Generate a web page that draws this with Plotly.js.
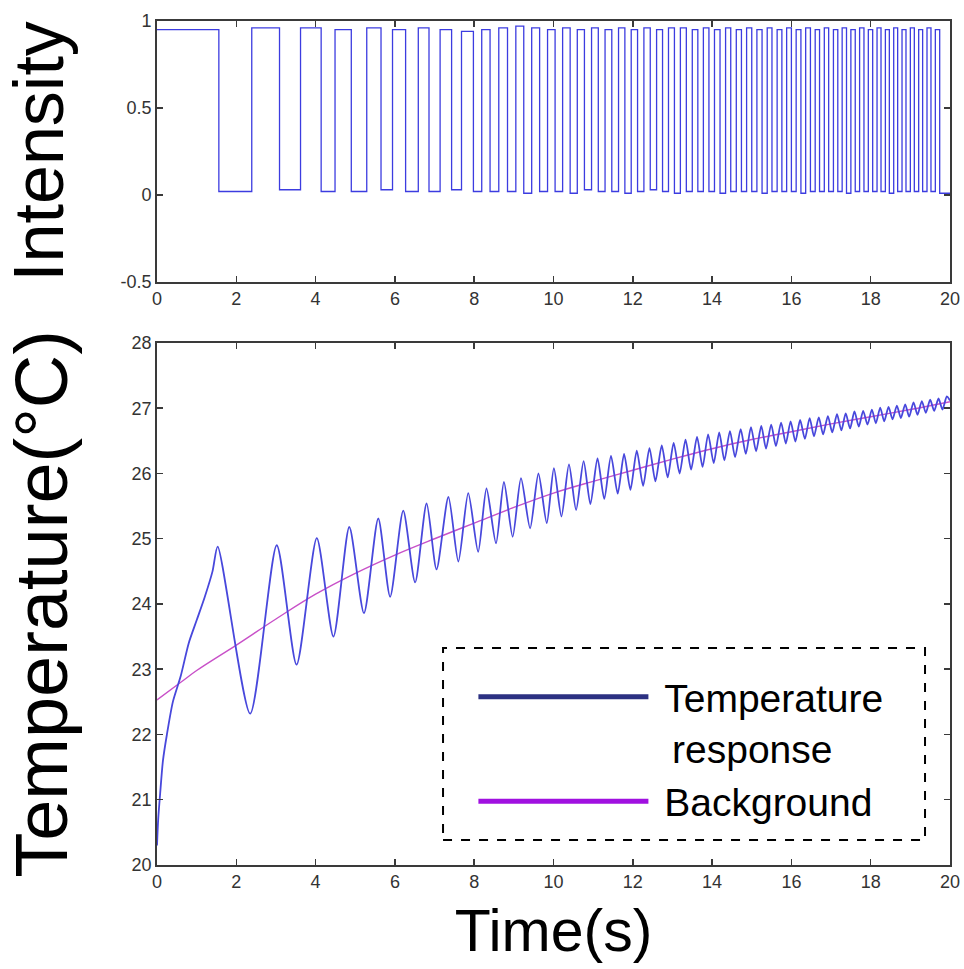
<!DOCTYPE html>
<html>
<head>
<meta charset="utf-8">
<script src="https://cdn.plot.ly/plotly-3.0.1.min.js"></script>
<style>html,body{margin:0;padding:0;background:#fff;}#chart{width:964px;height:969px;}</style>
</head>
<body>
<div id="chart"></div>
<script>
// ---- Intensity (top panel): times where the level changes, and the level after each change
const intensityTimes = [0, 1.56, 2.39, 3.09, 3.62, 4.14, 4.49, 4.90, 5.29, 5.65, 5.94, 6.27, 6.59, 6.86, 7.14, 7.43, 7.68, 7.98, 8.19, 8.40, 8.62, 8.84, 9.05, 9.25, 9.45, 9.65, 9.85, 10.04, 10.23, 10.42, 10.60, 10.78, 10.96, 11.13, 11.30, 11.47, 11.64, 11.80, 11.96, 12.12, 12.28, 12.44, 12.60, 12.75, 12.90, 13.05, 13.20, 13.35, 13.50, 13.64, 13.78, 13.92, 14.06, 14.20, 14.34, 14.47, 14.61, 14.74, 14.87, 15.00, 15.13, 15.26, 15.39, 15.51, 15.64, 15.76, 15.88, 16.00, 16.12, 16.24, 16.36, 16.48, 16.60, 16.71, 16.83, 16.94, 17.06, 17.17, 17.28, 17.39, 17.50, 17.61, 17.72, 17.83, 17.94, 18.05, 18.16, 18.26, 18.37, 18.47, 18.58, 18.68, 18.79, 18.89, 19.00, 19.10, 19.21, 19.31, 19.42, 19.52, 19.63, 19.74, 20];
const intensityLevels = [0.95, 0.02, 0.96, 0.03, 0.96, 0.02, 0.95, 0.02, 0.96, 0.03, 0.95, 0.02, 0.96, 0.02, 0.95, 0.03, 0.94, 0.02, 0.95, 0.02, 0.96, 0.02, 0.97, 0.01, 0.96, 0.02, 0.95, 0.02, 0.96, 0.01, 0.95, 0.03, 0.96, 0.02, 0.95, 0.02, 0.96, 0.01, 0.95, 0.02, 0.96, 0.03, 0.95, 0.02, 0.96, 0.01, 0.96, 0.02, 0.95, 0.02, 0.96, 0.02, 0.95, 0.01, 0.96, 0.02, 0.95, 0.02, 0.96, 0.02, 0.95, 0.01, 0.96, 0.02, 0.95, 0.02, 0.96, 0.02, 0.95, 0.01, 0.96, 0.02, 0.95, 0.02, 0.96, 0.02, 0.95, 0.02, 0.96, 0.01, 0.95, 0.02, 0.96, 0.02, 0.95, 0.02, 0.96, 0.02, 0.95, 0.01, 0.96, 0.02, 0.95, 0.02, 0.96, 0.02, 0.95, 0.02, 0.96, 0.02, 0.95, 0.01, 0.01];

// ---- Temperature response (bottom panel)
const tempT = [0, 0.03, 0.08, 0.15, 0.25, 0.40, 0.60, 0.80, 1.00, 1.20, 1.40, 1.53,
  2.35, 3.02, 3.52, 4.03, 4.45, 4.85, 5.22, 5.58, 5.88, 6.21, 6.51, 6.80, 7.05, 7.35, 7.60, 7.85, 8.10, 8.31, 8.55, 8.75, 8.97, 9.18, 9.41, 9.62, 9.83, 10.01,
  10.20, 10.39, 10.57, 10.76, 10.93, 11.11, 11.28, 11.45, 11.62, 11.78, 11.94, 12.10, 12.26, 12.42, 12.57, 12.73, 12.88, 13.03, 13.18, 13.33, 13.47, 13.62, 13.76, 13.90,
  14.04, 14.18, 14.31, 14.45, 14.58, 14.72, 14.85, 14.98, 15.11, 15.24, 15.36, 15.49, 15.61, 15.74, 15.86, 15.98, 16.10, 16.22, 16.34, 16.46, 16.57, 16.69, 16.80, 16.92,
  17.03, 17.15, 17.26, 17.37, 17.48, 17.59, 17.70, 17.81, 17.92, 18.03, 18.13, 18.24, 18.34, 18.45, 18.55, 18.66, 18.76, 18.87, 18.97, 19.08, 19.18, 19.29, 19.39, 19.50,
  19.60, 19.71, 19.81, 19.92, 20.00];
const tempV = [20.30, 20.70, 21.10, 21.60, 22.00, 22.50, 22.90, 23.40, 23.75, 24.10, 24.50, 24.88,
  22.32, 24.90, 23.07, 25.01, 23.50, 25.18, 23.86, 25.31, 24.11, 25.43, 24.33, 25.54, 24.53, 25.64, 24.65, 25.70, 24.80, 25.77, 24.93, 25.87, 25.03, 25.93, 25.16, 26.00, 25.24, 26.08,
  25.34, 26.14, 25.44, 26.19, 25.53, 26.23, 25.61, 26.27, 25.69, 26.30, 25.75, 26.35, 25.81, 26.39, 25.88, 26.43, 25.94, 26.47, 26.00, 26.52, 26.06, 26.56, 26.10, 26.60,
  26.16, 26.63, 26.20, 26.65, 26.25, 26.68, 26.30, 26.71, 26.34, 26.73, 26.38, 26.75, 26.42, 26.78, 26.46, 26.80, 26.49, 26.82, 26.53, 26.85, 26.57, 26.86, 26.60, 26.88,
  26.63, 26.91, 26.66, 26.92, 26.69, 26.95, 26.72, 26.96, 26.75, 26.98, 26.77, 27.01, 26.80, 27.02, 26.83, 27.04, 26.85, 27.06, 26.87, 27.09, 26.90, 27.11, 26.93, 27.13,
  26.96, 27.15, 26.98, 27.18, 27.12];

// ---- Background (bottom panel)
const bgT = [0, 0.6, 1, 2, 3, 4, 5, 6, 7, 8, 9, 10, 11, 12, 13, 14, 15, 16, 17, 18, 19, 20];
const bgV = [22.53, 22.80, 22.98, 23.37, 23.77, 24.15, 24.47, 24.75, 25.00, 25.24, 25.48, 25.70, 25.88, 26.05, 26.22, 26.38, 26.52, 26.64, 26.76, 26.87, 26.98, 27.10];

// ---- Labels
const legendNames = ['\u00a0Temperature<br>\u00a0\u2009response', '\u00a0Background'];
const xTickVals = [0, 2, 4, 6, 8, 10, 12, 14, 16, 18, 20];
const yTopTicks = [-0.5, 0, 0.5, 1];
const yTopLabels = ['-0.5', '0', '0.5', '1'];
const yBotTicks = [20, 21, 22, 23, 24, 25, 26, 27, 28];

const FONT = 'Liberation Sans, Arial, sans-serif';
const tickFont = {family: FONT, size: 18, color: '#333'};
const axisCommon = {
  showline: true, linecolor: '#3a3a3a', linewidth: 1.8, mirror: 'ticks',
  ticks: 'inside', ticklen: 6, tickwidth: 1.5, tickcolor: '#3a3a3a',
  showgrid: false, zeroline: false, tickfont: tickFont
};

const traces = [
  {x: intensityTimes, y: intensityLevels, type: 'scatter', mode: 'lines', line: {shape: 'hv', color: '#3c3ce0', width: 1.3},
   xaxis: 'x', yaxis: 'y', showlegend: false, hoverinfo: 'skip'},
  {x: bgT, y: bgV, type: 'scatter', mode: 'lines', line: {shape: 'spline', color: '#c850c8', width: 1.4},
   xaxis: 'x2', yaxis: 'y2', showlegend: false},
  {x: tempT, y: tempV, type: 'scatter', mode: 'lines', line: {shape: 'spline', smoothing: 0.7, color: '#4848dc', width: 1.8},
   xaxis: 'x2', yaxis: 'y2', showlegend: false},
  {x: [null], y: [null], type: 'scatter', mode: 'lines', name: legendNames[0], line: {color: '#2c3182', width: 5},
   xaxis: 'x2', yaxis: 'y2', showlegend: true},
  {x: [null], y: [null], type: 'scatter', mode: 'lines', name: legendNames[1], line: {color: '#a010e0', width: 5},
   xaxis: 'x2', yaxis: 'y2', showlegend: true}
];

const layout = {
  width: 964, height: 969,
  margin: {l: 157, r: 14, t: 21, b: 104},
  paper_bgcolor: '#fff', plot_bgcolor: '#fff',
  showlegend: true,
  xaxis: Object.assign({}, axisCommon, {domain: [0, 1], anchor: 'y', range: [0, 20], tickvals: xTickVals}),
  yaxis: Object.assign({}, axisCommon, {domain: [0.6908, 1], anchor: 'x', range: [-0.5, 1], tickvals: yTopTicks, ticktext: yTopLabels,
    title: {text: 'Intensity', font: {family: FONT, size: 70, color: '#000'}, standoff: 36}}),
  xaxis2: Object.assign({}, axisCommon, {domain: [0, 1], anchor: 'y2', range: [0, 20], tickvals: xTickVals,
    title: {text: 'Time(s)', font: {family: FONT, size: 59, color: '#000'}, standoff: 18}}),
  yaxis2: Object.assign({}, axisCommon, {domain: [0, 0.6185], anchor: 'x2', range: [20, 28], tickvals: yBotTicks,
    title: {text: 'Temperature(°C)', font: {family: FONT, size: 74, color: '#000'}, standoff: 44}}),
  legend: {x: 0.399, y: 0.237, xanchor: 'left', yanchor: 'top', bgcolor: 'rgba(0,0,0,0)', borderwidth: 0,
    font: {family: FONT, size: 39, color: '#000'}, itemwidth: 170, valign: 'top', tracegroupgap: 10},
  shapes: [
    {type: 'rect', xref: 'paper', yref: 'paper', x0: 0.3607, x1: 0.9685, y0: 0.0296, y1: 0.2571,
     line: {color: '#000', width: 2, dash: 'dash'}, fillcolor: 'rgba(0,0,0,0)'}
  ]
};

Plotly.newPlot('chart', traces, layout, {displayModeBar: false, staticPlot: true});
</script>
</body>
</html>
